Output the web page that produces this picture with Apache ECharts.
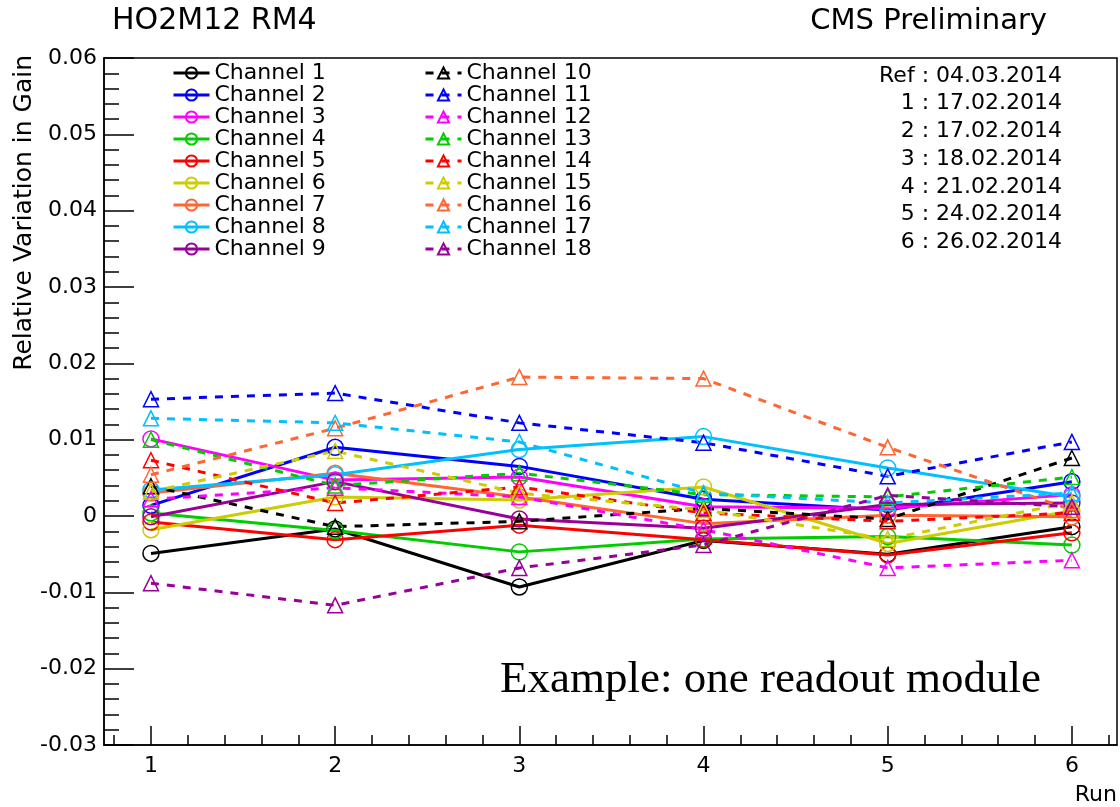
<!DOCTYPE html>
<html>
<head>
<meta charset="utf-8">
<script src="https://cdn.jsdelivr.net/npm/echarts@6/dist/echarts.min.js"></script>
<style>
  html, body { margin: 0; padding: 0; background: #fff; }
  #chart { width: 1120px; height: 807px; }
</style>
</head>
<body>
<div id="chart"></div>
<script>
const runs = [1, 2, 3, 4, 5, 6]
const runTicks = [1, 2, 3, 4, 5, 6]
const runMinorTicks = [0.8, 1.2, 1.4, 1.6, 1.8, 2.2, 2.4, 2.6, 2.8, 3.2, 3.4, 3.6, 3.8,
  4.2, 4.4, 4.6, 4.8, 5.2, 5.4, 5.6, 5.8, 6.2]

const channelNames = ['Channel 1', 'Channel 2', 'Channel 3', 'Channel 4', 'Channel 5',
  'Channel 6', 'Channel 7', 'Channel 8', 'Channel 9', 'Channel 10', 'Channel 11',
  'Channel 12', 'Channel 13', 'Channel 14', 'Channel 15', 'Channel 16', 'Channel 17',
  'Channel 18']

// relative gain variation per run
const ch1 = [-0.0049, -0.0017, -0.0093, -0.0032, -0.0050, -0.0014]
const ch2 = [0.0014, 0.0090, 0.0065, 0.0022, 0.0008, 0.0045]
const ch3 = [0.0101, 0.0047, 0.0051, 0.0012, 0.0010, 0.0028]
const ch4 = [0.0004, -0.0019, -0.0047, -0.0030, -0.0027, -0.0038]
const ch5 = [-0.0008, -0.0031, -0.0012, -0.0031, -0.0051, -0.0022]
const ch6 = [-0.0018, 0.0025, 0.0021, 0.0038, -0.0036, 0.0007]
const ch7 = [0.0030, 0.0056, 0.0025, -0.0010, 0.0001, -0.0001]
const ch8 = [0.0034, 0.0054, 0.0087, 0.0104, 0.0063, 0.0025]
const ch9 = [-0.0001, 0.0045, -0.0004, -0.0016, 0.0015, 0.0017]
const ch10 = [0.0039, -0.0014, -0.0007, 0.0010, -0.0004, 0.0076]
const ch11 = [0.0153, 0.0161, 0.0122, 0.0096, 0.0052, 0.0097]
const ch12 = [0.0022, 0.0037, 0.0025, -0.0018, -0.0068, -0.0058]
const ch13 = [0.0100, 0.0040, 0.0056, 0.0028, 0.0025, 0.0051]
const ch14 = [0.0073, 0.0017, 0.0038, 0.0004, -0.0007, 0.0004]
const ch15 = [0.0032, 0.0085, 0.0030, 0.0008, -0.0030, 0.0018]
const ch16 = [0.0054, 0.0115, 0.0182, 0.0180, 0.0090, 0.0008]
const ch17 = [0.0128, 0.0122, 0.0097, 0.0030, 0.0017, 0.0030]
const ch18 = [-0.0088, -0.0117, -0.0068, -0.0038, 0.0027, 0.0012]

const channelValues = [ch1, ch2, ch3, ch4, ch5, ch6, ch7, ch8, ch9,
  ch10, ch11, ch12, ch13, ch14, ch15, ch16, ch17, ch18]

const palette = ['#000000', '#0000ff', '#ff00ff', '#00cc00', '#ff0000',
  '#cccc00', '#ff6633', '#00c0ff', '#990099']

const dateLabels = ['Ref : 04.03.2014', '1 : 17.02.2014', '2 : 17.02.2014',
  '3 : 18.02.2014', '4 : 21.02.2014', '5 : 24.02.2014', '6 : 26.02.2014']

const FONT = 'DejaVu Sans'

const series = channelValues.map((vals, i) => {
  const dashed = i >= 9
  const color = palette[i % 9]
  return {
    name: channelNames[i],
    type: 'line',
    data: vals.map((v, k) => [runs[k], v]),
    symbol: dashed ? 'triangle' : 'circle',
    symbolSize: dashed ? 15 : 16,
    itemStyle: {
      color: 'rgba(255,255,255,0)',
      borderColor: color,
      borderWidth: 1.5
    },
    lineStyle: {
      color: color,
      width: 3,
      type: dashed ? [8, 8] : 'solid'
    },
    emphasis: { disabled: true }
  }
})

const legendBase = {
  orient: 'vertical',
  top: 62,
  padding: 0,
  itemWidth: 36,
  itemHeight: 14,
  itemGap: 0,
  selectedMode: false,
  lineStyle: { width: 3 },
  textStyle: {
    fontFamily: FONT,
    fontSize: 22,
    lineHeight: 20,
    color: '#000'
  }
}

const graphics = [
  {
    type: 'text', x: 112, y: 21,
    style: { text: 'HO2M12 RM4', font: '30px "DejaVu Sans"', fill: '#000', verticalAlign: 'middle' }
  },
  {
    type: 'text', x: 1047, y: 21,
    style: { text: 'CMS Preliminary', font: '29px "DejaVu Sans"', fill: '#000', align: 'right', verticalAlign: 'middle' }
  },
  {
    type: 'text', x: 24, y: 55, rotation: Math.PI / 2,
    style: { text: 'Relative Variation in Gain', font: '25px "DejaVu Sans"', fill: '#000', align: 'right', verticalAlign: 'middle' }
  },
  {
    type: 'text', x: 1117, y: 795,
    style: { text: 'Run', font: '22px "DejaVu Sans"', fill: '#000', align: 'right', verticalAlign: 'middle' }
  },
  {
    type: 'text', x: 500, y: 680,
    style: { text: 'Example: one readout module', font: '45px "Liberation Serif"', fill: '#000', verticalAlign: 'middle' }
  }
].concat(dateLabels.map((t, i) => ({
  type: 'text', x: 1062, y: 76 + i * 27.7,
  style: { text: t, font: '22px "DejaVu Sans"', fill: '#000', align: 'right', verticalAlign: 'middle' }
})))

const chart = echarts.init(document.getElementById('chart'))
chart.setOption({
  animation: false,
  backgroundColor: '#fff',
  grid: {
    left: 104,
    top: 58,
    right: 3,
    bottom: 62,
    show: true,
    borderColor: '#000',
    borderWidth: 1.5,
    backgroundColor: 'transparent'
  },
  legend: [
    Object.assign({}, legendBase, { left: 172, data: channelNames.slice(0, 9) }),
    Object.assign({}, legendBase, { left: 424, data: channelNames.slice(9) })
  ],
  xAxis: [
    {
      type: 'value',
      min: 0.745,
      max: 6.245,
      axisLine: { show: true, onZero: false, lineStyle: { color: '#000', width: 1.5 } },
      axisTick: {
        show: true,
        inside: true,
        length: 19,
        customValues: runTicks,
        lineStyle: { color: '#000', width: 1.5 }
      },
      axisLabel: {
        customValues: runTicks,
        margin: 10,
        color: '#000',
        fontFamily: FONT,
        fontSize: 22
      },
      splitLine: { show: false }
    },
    {
      type: 'value',
      min: 0.745,
      max: 6.245,
      position: 'bottom',
      axisLine: { show: false, onZero: false },
      axisTick: {
        show: true,
        inside: true,
        length: 10,
        customValues: runMinorTicks,
        lineStyle: { color: '#000', width: 1.5 }
      },
      axisLabel: { show: false },
      splitLine: { show: false }
    }
  ],
  yAxis: {
    type: 'value',
    min: -0.03,
    max: 0.06,
    interval: 0.01,
    axisLine: { show: true, onZero: false, lineStyle: { color: '#000', width: 1.5 } },
    axisTick: { show: true, inside: true, length: 30, lineStyle: { color: '#000', width: 1.5 } },
    minorTick: { show: true, splitNumber: 5, length: 15, lineStyle: { color: '#000', width: 1.5 } },
    axisLabel: {
      margin: 7,
      color: '#000',
      fontFamily: FONT,
      fontSize: 22,
      formatter: v => String(+v.toFixed(2))
    },
    splitLine: { show: false }
  },
  graphic: graphics,
  series: series
})
</script>
</body>
</html>
